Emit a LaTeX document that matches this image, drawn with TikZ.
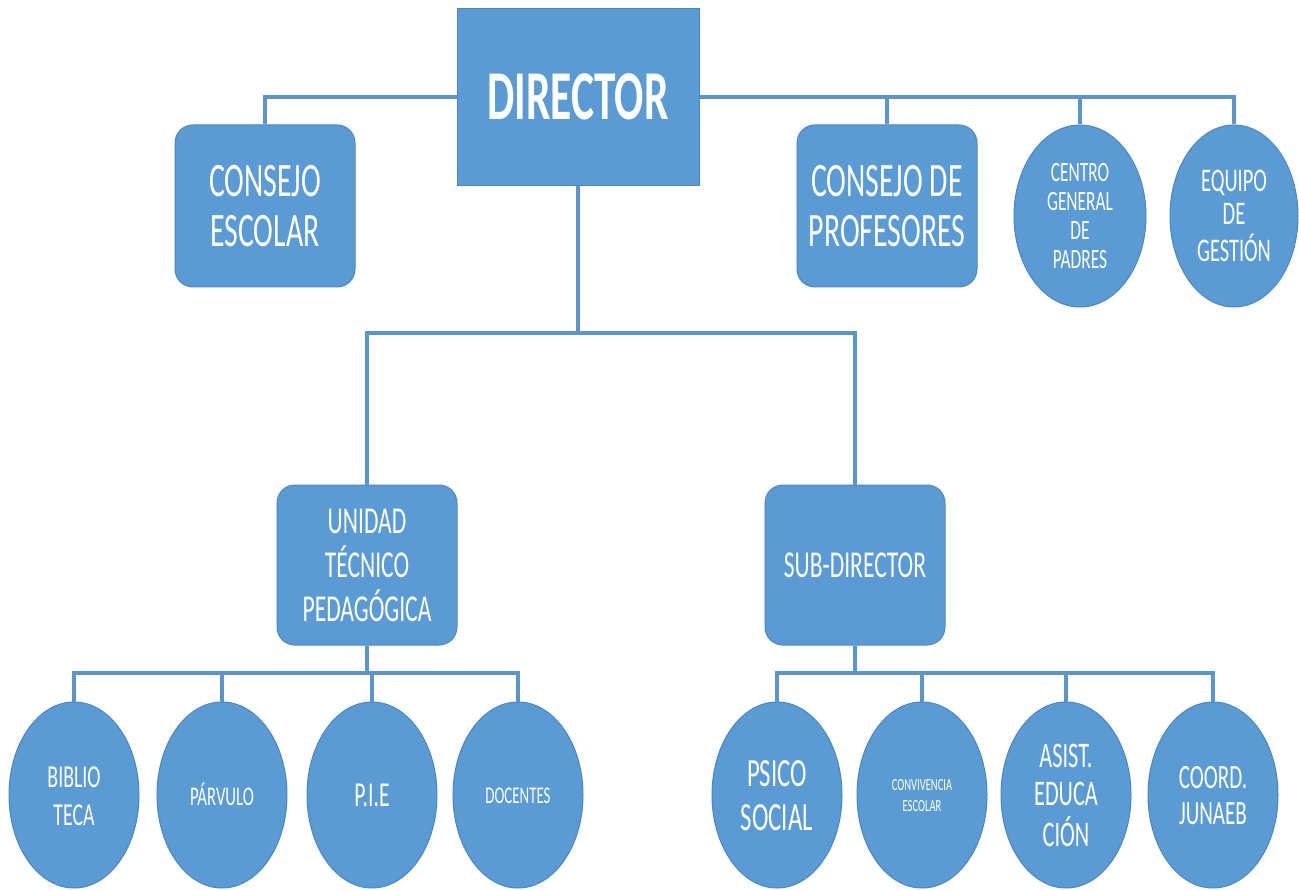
\documentclass[tikz,border=0pt]{standalone}
\usepackage{fontspec}
\setmainfont{Carlito}
\usetikzlibrary{shapes.geometric}
\definecolor{boxblue}{HTML}{5B9BD5}
\definecolor{edgeblue}{HTML}{4A86C0}
\definecolor{lineblue}{HTML}{5A95CE}
\newcommand{\tx}[3]{\scalebox{0.62}[1]{\fontsize{#1}{#2}\selectfont\raisebox{-0.12em}[\height][\depth]{\begin{tabular}{@{}c@{}}#3\end{tabular}}}}
\tikzset{
  base/.style={fill=boxblue, draw=edgeblue, line width=1pt, text=white, inner sep=0pt, align=center},
  sqbox/.style={base, rectangle, minimum width=242pt, minimum height=177pt},
  rbox/.style={base, rectangle, rounded corners=18pt, minimum width=180pt, minimum height=162pt},
  oval/.style={base, ellipse, minimum width=130pt, minimum height=186pt},
  conn/.style={draw=lineblue, line width=4pt}
}
\begin{document}
\begin{tikzpicture}[x=1pt, y=-1pt]
\useasboundingbox (0,0) rectangle (1299,890);
% top level
\node[sqbox] (dir) at (578,97) {\tx{70}{72}{\bfseries DIRECTOR}};
\node[rbox] (ce) at (265,206) {\tx{48}{50}{CONSEJO\\ESCOLAR}};
\node[rbox] (cp) at (887,206) {\tx{48}{50}{CONSEJO DE\\PROFESORES}};
\node[oval, minimum width=132pt, minimum height=182pt] (cg) at (1080,216) {\tx{28}{29}{CENTRO\\GENERAL\\DE\\PADRES}};
\node[oval, minimum width=128pt, minimum height=182pt] (eg) at (1234,216) {\tx{33}{33}{EQUIPO\\DE\\GESTIÓN}};
% second level
\node[rbox, minimum height=160pt] (utp) at (367,565) {\tx{38}{41}{UNIDAD\\TÉCNICO\\PEDAGÓGICA}};
\node[rbox, minimum height=160pt] (sub) at (855,565) {\tx{38}{41}{SUB-DIRECTOR}};
% bottom level
\node[oval] (bib) at (74,795) {\tx{32}{38}{BIBLIO\\TECA}};
\node[oval] (par) at (222,795) {\tx{27}{30}{PÁRVULO}};
\node[oval] (pie) at (372,795) {\tx{35}{38}{P.I.E}};
\node[oval] (doc) at (518,795) {\tx{24}{28}{DOCENTES}};
\node[oval] (psi) at (777,795) {\tx{40}{44}{PSICO\\SOCIAL}};
\node[oval] (con) at (922,795) {\tx{17}{21}{CONVIVENCIA\\ESCOLAR}};
\node[oval] (asi) at (1066,795) {\tx{36}{38}{ASIST.\\EDUCA\\CIÓN}};
\node[oval] (coo) at (1213,795) {\tx{34}{36}{COORD.\\JUNAEB}};
% junction coordinates
\coordinate (jd) at (578,333);
\coordinate (jl) at (0,673);
% connectors
\draw[conn] (dir.west) -| (ce.north);
\draw[conn] (dir.east) -| (eg.north);
\draw[conn] (cp.north) -- (cp.north |- dir.east);
\draw[conn] (cg.north) -- (cg.north |- dir.east);
\draw[conn] (dir.south) -- (jd);
\draw[conn] (utp.north) |- (jd) -| (sub.north);
\draw[conn] (utp.south) -- (utp.south |- jl);
\draw[conn] (bib.north) |- (utp.south |- jl) -| (doc.north);
\draw[conn] (par.north) -- (par.north |- jl);
\draw[conn] (pie.north) -- (pie.north |- jl);
\draw[conn] (sub.south) -- (sub.south |- jl);
\draw[conn] (psi.north) |- (sub.south |- jl) -| (coo.north);
\draw[conn] (con.north) -- (con.north |- jl);
\draw[conn] (asi.north) -- (asi.north |- jl);
\end{tikzpicture}
\end{document}
